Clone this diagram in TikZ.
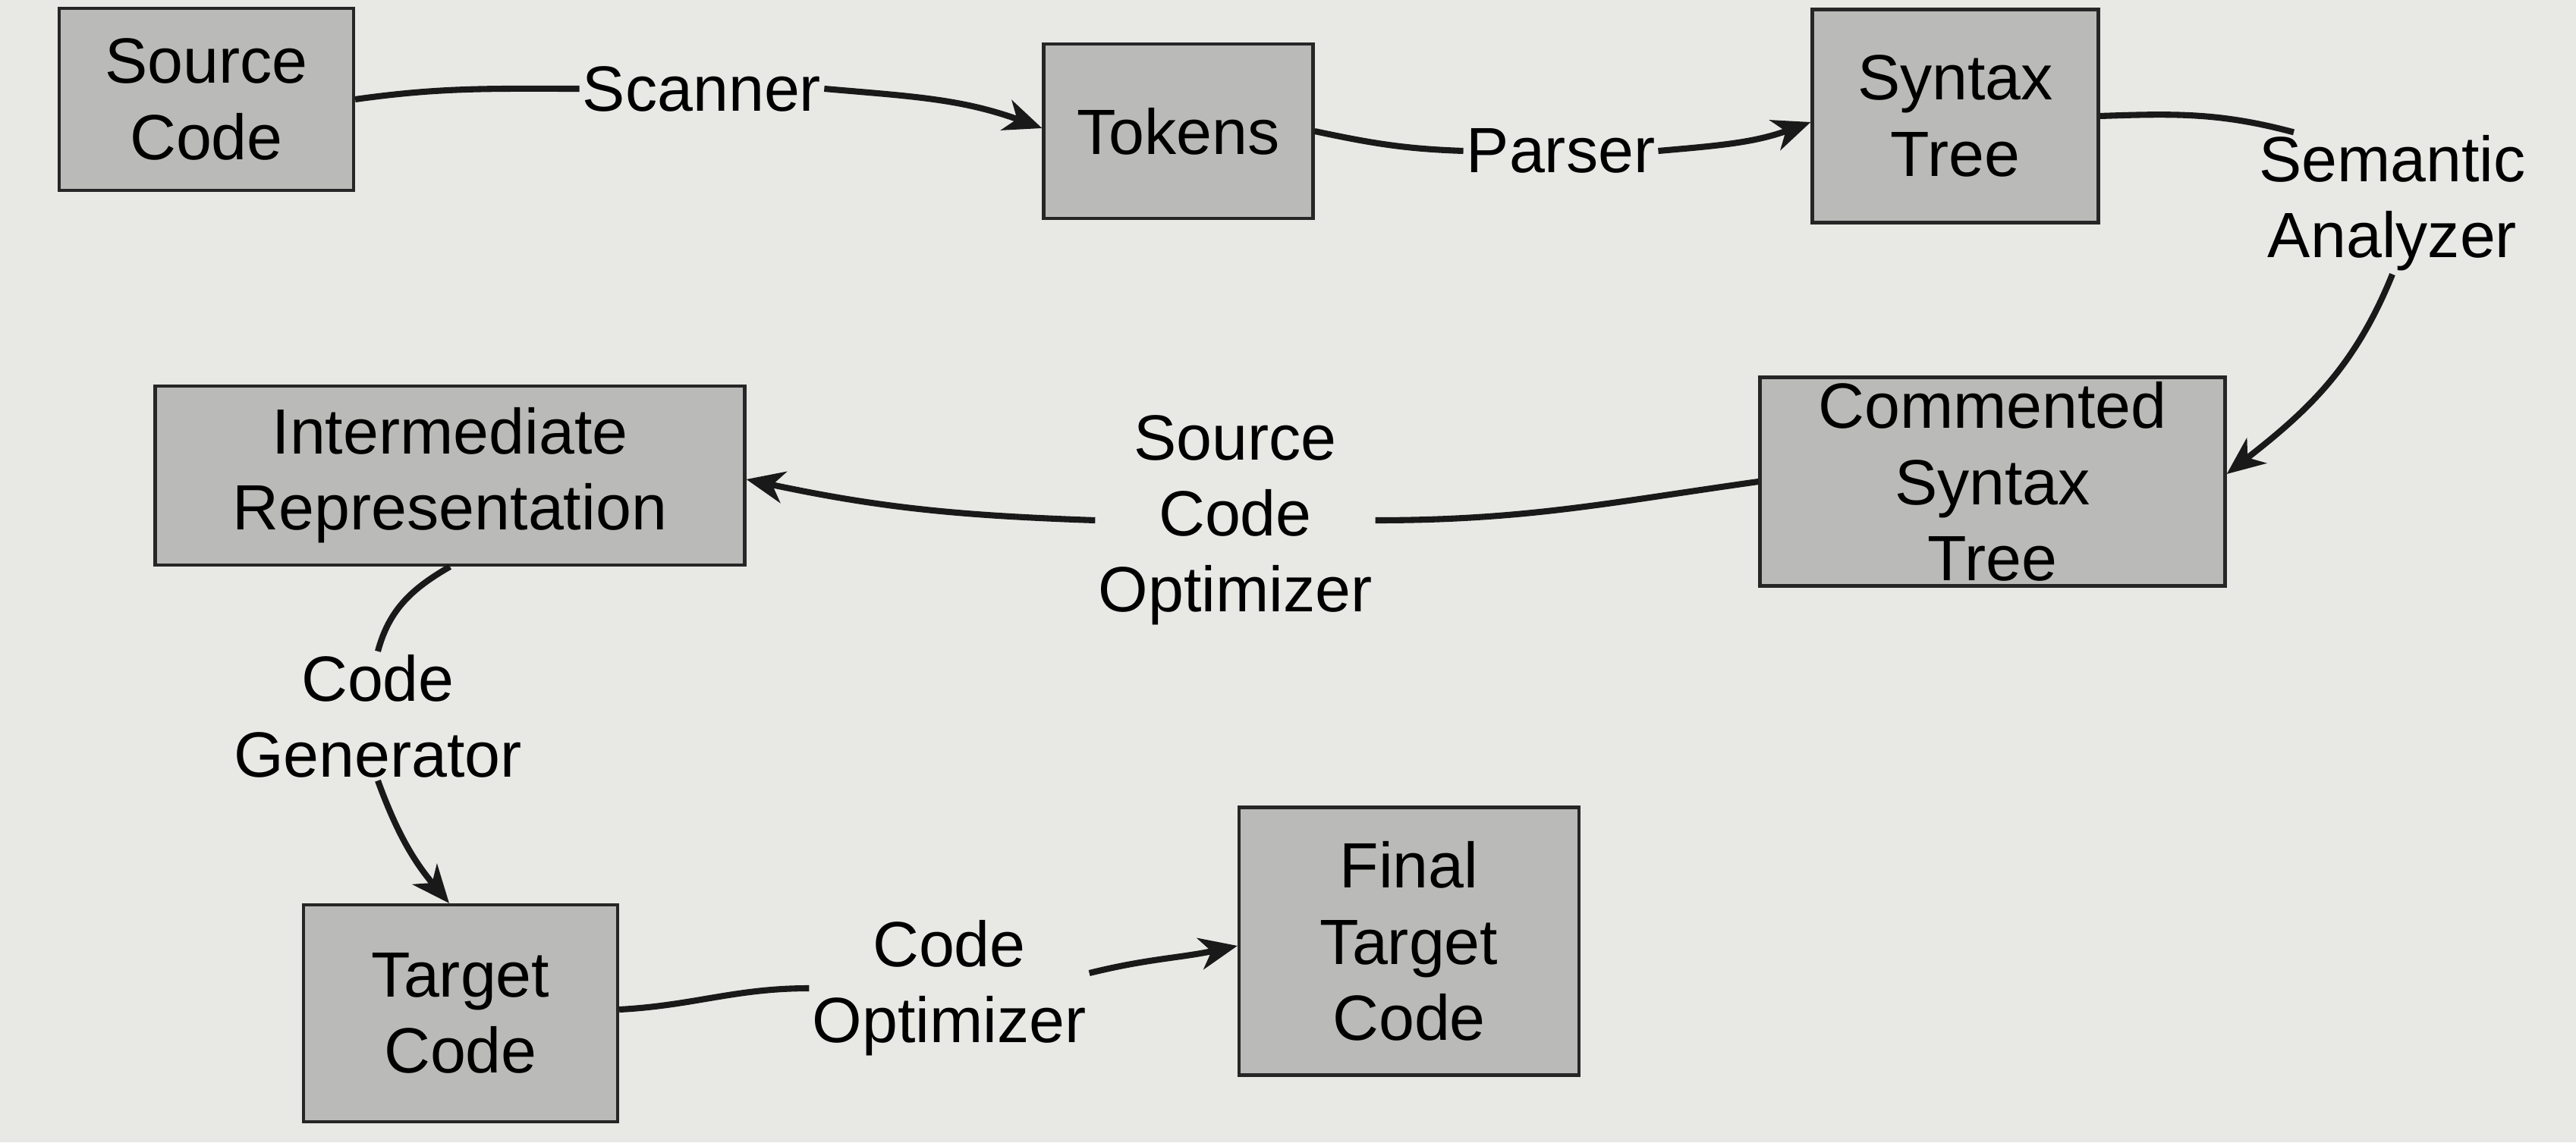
\documentclass[tikz,border=0pt]{standalone}
\usepackage{fontspec}
\setmainfont{Liberation Sans}
\usetikzlibrary{arrows.meta}
\definecolor{paper}{RGB}{232,232,229}
\definecolor{boxgray}{RGB}{186,186,184}
\tikzset{
	stage/.style = {draw=black!85, line width=1.2pt, fill=boxgray, inner sep=0pt, align=center, font=\fontsize{24}{28.5}\selectfont},
	phase/.style = {inner sep=1pt, align=center, font=\fontsize{24}{28.5}\selectfont},
	flow/.style = {line width=2.3pt, black!90},
	flowarr/.style = {flow, -{Stealth[length=0.5cm, width=0.42cm, inset=0.15cm]}}
}

\begin{document}
\begin{tikzpicture}
	\fill[paper] (0,0) rectangle (33.95,15.06);
	\useasboundingbox (0,0) rectangle (33.95,15.06);
	% ====== Stages ========
	\node[stage, minimum width=3.88cm, minimum height=2.40cm] (src) at (2.72,13.75) {Source\\Code};
	\node[stage, minimum width=3.55cm, minimum height=2.30cm] (tok) at (15.53,13.33) {Tokens};
	\node[stage, minimum width=3.77cm, minimum height=2.81cm] (syn) at (25.77,13.53) {Syntax\\Tree};
	\node[stage, minimum width=6.13cm, minimum height=2.75cm] (cst) at (26.26,8.71) {Commented\\Syntax\\Tree};
	\node[stage, minimum width=7.77cm, minimum height=2.36cm] (ir) at (5.93,8.79) {Intermediate\\Representation};
	\node[stage, minimum width=4.14cm, minimum height=2.86cm] (tgt) at (6.07,1.70) {Target\\Code};
	\node[stage, minimum width=4.48cm, minimum height=3.53cm] (fin) at (18.57,2.65) {Final\\Target\\Code};
	% ====== Phases ========
	\node[phase] (scan) at (9.25,13.89) {Scanner};
	\node[phase] (pars) at (20.57,13.07) {Parser};
	\node[phase] (sem) at (31.53,12.38) {Semantic\\Analyzer};
	\node[phase] (sco) at (16.28,8.20) {Source\\Code\\Optimizer};
	\node[phase] (cg) at (4.98,5.62) {Code\\Generator};
	\node[phase] (co) at (12.51,2.03) {Code\\Optimizer};
	% ====== Flow ========
	\draw[flow] (src.east) to[out=8, in=180] (scan.west);
	\draw[flowarr] (scan.east) to[out=-5, in=160] ([yshift=0.04cm]tok.west);
	\draw[flow] (tok.east) to[out=-12, in=178] (pars.west);
	\draw[flowarr] (pars.east) to[out=5, in=200] ([yshift=-0.08cm]syn.west);
	\draw[flow] (syn.east) to[out=2, in=165] ([xshift=-1.3cm]sem.north);
	\draw[flowarr] (sem.south) to[out=-112, in=38] ([yshift=0.1cm]cst.east);
	\draw[flow] (cst.west) to[out=188, in=0] (sco.east);
	\draw[flowarr] (sco.west) to[out=178, in=-12] ([yshift=-0.05cm]ir.east);
	\draw[flow] (ir.south) to[out=-150, in=75] (cg.north);
	\draw[flowarr] (cg.south) to[out=-70, in=130] ([xshift=-0.15cm]tgt.north);
	\draw[flow] ([yshift=0.05cm]tgt.east) to[out=3, in=180] (co.west);
	\draw[flowarr] ([yshift=0.2cm]co.east) to[out=14, in=192] ([yshift=-0.06cm]fin.west);
\end{tikzpicture}
\end{document}
